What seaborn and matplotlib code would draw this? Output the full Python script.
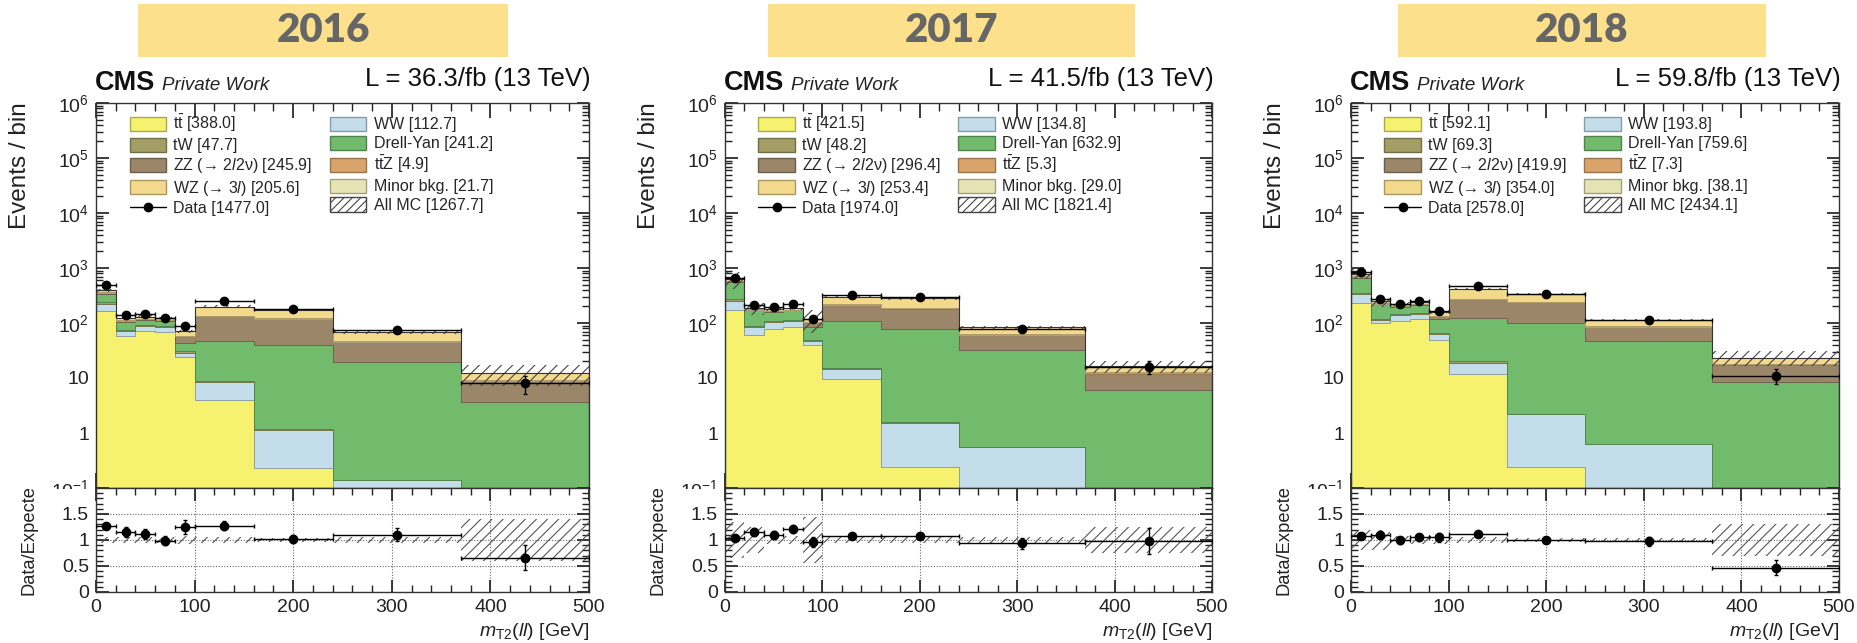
import numpy as np
import pandas as pd
import matplotlib
matplotlib.use("Agg")
import matplotlib.pyplot as plt
import seaborn as sns
from matplotlib import colors as mcolors
from matplotlib.patches import Patch, Rectangle
from matplotlib.lines import Line2D
from matplotlib.ticker import FixedLocator, FuncFormatter, MultipleLocator, LogLocator, NullFormatter
from matplotlib.transforms import Bbox, TransformedBbox

# ---------------- data ----------------
bin_edges = [0, 20, 40, 60, 80, 100, 160, 240, 370, 500]
years = ["2016", "2017", "2018"]
lumi = ["36.3", "41.5", "59.8"]

# stacking order, bottom -> top
process_names = ["ttbar", "WW", "tW", "DY", "ZZ", "ttZ", "Minor", "WZ"]

ttbar_2016 = [162, 57, 72, 69, 24, 4.0, 0.23, 0.0, 0.0]
ww_2016 = [59, 15, 17, 17, 5, 4.3, 0.92, 0.14, 0.0]
tw_2016 = [17, 4, 3, 3, 2, 0.7, 0.05, 0.0, 0.0]
dy_2016 = [99, 30, 21, 20, 12, 39, 38, 19.3, 3.7]
zz_2016 = [20, 3, 4, 3, 14, 84, 79, 25, 5]
ttz_2016 = [1, 0.3, 0.3, 0.3, 0.3, 1.5, 1.5, 0.8, 0.3]
minor_2016 = [4, 2, 2, 2, 1, 2, 1.5, 1, 0.3]
wz_2016 = [30, 10, 10, 9, 12, 64, 54, 22, 2.8]
data_2016 = [495, 140, 144, 122, 88, 255, 178, 75, 8]
unc_2016 = [0.06, 0.06, 0.06, 0.06, 0.08, 0.05, 0.04, 0.06, 0.40]

ttbar_2017 = [174, 61, 77, 86, 39, 9.4, 0.24, 0.0, 0.0]
ww_2017 = [74, 22, 26, 21, 8, 5.1, 1.28, 0.56, 0.05]
tw_2017 = [20, 4, 5, 5, 3, 0.5, 0.05, 0.0, 0.0]
dy_2017 = [282, 83, 50, 50, 33, 92, 75, 31.4, 6.0]
zz_2017 = [25, 5, 6, 6, 20, 105, 105, 28, 6]
ttz_2017 = [1, 0.3, 0.3, 0.3, 0.3, 2, 2, 1, 0.3]
minor_2017 = [5, 2, 2, 2, 1, 3, 2, 1.5, 0.4]
wz_2017 = [50, 11, 12, 14, 16, 80, 95, 21, 3.5]
data_2017 = [656, 216, 196, 224, 116, 321, 303, 78, 16]
unc_2017 = [0.35, 0.25, 0.08, 0.08, 0.45, 0.06, 0.05, 0.05, 0.25]

ttbar_2018 = [233, 98, 110, 116, 50, 11.6, 0.24, 0.0, 0.0]
ww_2018 = [105, 17, 31, 31, 12, 7.4, 1.96, 0.62, 0.05]
tw_2018 = [20, 4, 7, 5, 4, 1, 0.05, 0.0, 0.0]
dy_2018 = [306, 101, 48, 58, 50, 102, 98, 46, 8.3]
zz_2018 = [30, 5, 6, 7, 18, 150, 140, 38, 9]
ttz_2018 = [1.5, 0.4, 0.4, 0.4, 0.4, 2.5, 2.5, 1.5, 0.5]
minor_2018 = [6, 3, 3, 3, 1.5, 4, 3, 2, 0.5]
wz_2018 = [90, 20, 16, 20, 20, 140, 90, 27, 5]
data_2018 = [855, 273, 221, 252, 164, 469, 336, 112, 11]
unc_2018 = [0.20, 0.20, 0.08, 0.08, 0.08, 0.05, 0.03, 0.04, 0.30]

# legend yields, order: ttbar, tW, ZZ, WZ, Data, WW, DY, ttZ, Minor, All MC
legend_yields_2016 = [388.0, 47.7, 245.9, 205.6, 1477.0, 112.7, 241.2, 4.9, 21.7, 1267.7]
legend_yields_2017 = [421.5, 48.2, 296.4, 253.4, 1974.0, 134.8, 632.9, 5.3, 29.0, 1821.4]
legend_yields_2018 = [592.1, 69.3, 419.9, 354.0, 2578.0, 193.8, 759.6, 7.3, 38.1, 2434.1]

stacks = {
    "2016": [ttbar_2016, ww_2016, tw_2016, dy_2016, zz_2016, ttz_2016, minor_2016, wz_2016],
    "2017": [ttbar_2017, ww_2017, tw_2017, dy_2017, zz_2017, ttz_2017, minor_2017, wz_2017],
    "2018": [ttbar_2018, ww_2018, tw_2018, dy_2018, zz_2018, ttz_2018, minor_2018, wz_2018],
}
data_by_year = {"2016": data_2016, "2017": data_2017, "2018": data_2018}
unc_by_year = {"2016": unc_2016, "2017": unc_2017, "2018": unc_2018}
legend_by_year = {"2016": legend_yields_2016, "2017": legend_yields_2017, "2018": legend_yields_2018}

# ---------------- style ----------------
palette = {
    "ttbar": "#F6F16E", "WW": "#C3DEEA", "tW": "#A29E66", "DY": "#72BA6C",
    "ZZ": "#9C8669", "ttZ": "#D8A46C", "Minor": "#E6E3B5", "WZ": "#F3D98C",
}

sns.set_theme(style="ticks")
FONT = "Liberation Sans"
plt.rcParams["font.family"] = [FONT, "DejaVu Sans"]
plt.rcParams["mathtext.fontset"] = "custom"
plt.rcParams["mathtext.rm"] = FONT
plt.rcParams["mathtext.it"] = FONT + ":italic"
plt.rcParams["mathtext.bf"] = FONT + ":bold"
plt.rcParams["hatch.linewidth"] = 0.8
plt.rcParams["axes.linewidth"] = 1.0

W, H = 1858, 643
fig = plt.figure(figsize=(W / 100, H / 100), dpi=100)
fig.patch.set_facecolor("white")


def fx(px):
    return px / W


def fy(py):
    return 1 - py / H


panel_left = [96, 725, 1351]
panel_right = [589, 1212, 1839]
banner_x = [(138, 508), (768, 1135), (1398, 1766)]
MAIN_TOP, MAIN_BOT, RAT_BOT = 103, 488, 592

edges = np.array(bin_edges, dtype=float)
centers = 0.5 * (edges[1:] + edges[:-1])
halfw = 0.5 * (edges[1:] - edges[:-1])


def darker(c, f=0.7):
    r, g, b = mcolors.to_rgb(c)
    return (r * f, g * f, b * f)


def log_fmt(v, pos):
    if np.isclose(v, 1):
        return "1"
    if np.isclose(v, 10):
        return "10"
    if v < 0.5:
        return ""
    return r"$10^{%d}$" % int(round(np.log10(v)))


def ratio_fmt(v, pos):
    if v > 1.9:
        return ""
    return "%g" % v


TICK_FS = 14
for i, year in enumerate(years):
    L, R = panel_left[i], panel_right[i]
    axm = fig.add_axes([fx(L), fy(MAIN_BOT), fx(R - L), (MAIN_BOT - MAIN_TOP) / H])
    axr = fig.add_axes([fx(L), fy(RAT_BOT), fx(R - L), (RAT_BOT - MAIN_BOT) / H])

    comps = stacks[year]
    rows = []
    for name, vals in zip(process_names, comps):
        for c, v in zip(centers, vals):
            rows.append({"x": c, "w": v, "process": name})
    df = pd.DataFrame(rows)

    sns.histplot(data=df, x="x", weights="w", hue="process",
                 hue_order=process_names[::-1], bins=bin_edges,
                 multiple="stack", element="step", fill=True, alpha=1,
                 palette=palette, linewidth=0.6, legend=False, ax=axm)
    for coll in axm.collections:
        fc = coll.get_facecolor()[0]
        coll.set_edgecolor(darker(fc))

    mc_total = np.sum(np.array(comps, dtype=float), axis=0)
    data = np.array(data_by_year[year], dtype=float)
    unc = np.array(unc_by_year[year], dtype=float)

    lo = np.append(mc_total * (1 - unc), mc_total[-1] * (1 - unc[-1]))
    hi = np.append(mc_total * (1 + unc), mc_total[-1] * (1 + unc[-1]))
    axm.fill_between(edges, lo, hi, step="post", facecolor="none",
                     edgecolor="#444444", hatch="///", linewidth=0, zorder=3)
    axm.stairs(mc_total, edges, color="#333333", linewidth=0.8, zorder=3)

    axm.errorbar(centers, data, xerr=halfw, yerr=np.sqrt(data), fmt="o",
                 color="black", ms=6, lw=1.0, capsize=1.5, capthick=1.0, zorder=5)

    axm.set_yscale("log")
    axm.set_xlim(0, 500)
    axm.set_ylim(0.1, 1e6)
    axm.set_xlabel("")
    axm.set_ylabel("")
    axm.yaxis.set_major_locator(FixedLocator([1e-1, 1, 10, 1e2, 1e3, 1e4, 1e5, 1e6]))
    axm.yaxis.set_major_formatter(FuncFormatter(log_fmt))
    axm.yaxis.set_minor_locator(LogLocator(base=10, subs=np.arange(2, 10), numticks=100))
    axm.yaxis.set_minor_formatter(NullFormatter())
    axm.xaxis.set_major_locator(MultipleLocator(100))
    axm.xaxis.set_minor_locator(MultipleLocator(20))
    axm.tick_params(axis="both", which="both", direction="in", top=True, right=True,
                    labelbottom=False, labelsize=TICK_FS, pad=5, colors="#222222")
    axm.tick_params(axis="y", which="major", length=9)
    axm.tick_params(axis="y", which="minor", length=5)
    axm.tick_params(axis="x", which="major", length=11)
    axm.tick_params(axis="x", which="minor", length=6)
    for sp in axm.spines.values():
        sp.set_visible(True)
        sp.set_color("#333333")

    # legend
    ly = legend_by_year[year]
    handles = [
        Patch(facecolor=palette["ttbar"], edgecolor=darker(palette["ttbar"])),
        Patch(facecolor=palette["tW"], edgecolor=darker(palette["tW"])),
        Patch(facecolor=palette["ZZ"], edgecolor=darker(palette["ZZ"])),
        Patch(facecolor=palette["WZ"], edgecolor=darker(palette["WZ"])),
        Line2D([0], [0], color="black", marker="o", ms=6, lw=1.0),
        Patch(facecolor=palette["WW"], edgecolor=darker(palette["WW"])),
        Patch(facecolor=palette["DY"], edgecolor=darker(palette["DY"])),
        Patch(facecolor=palette["ttZ"], edgecolor=darker(palette["ttZ"])),
        Patch(facecolor=palette["Minor"], edgecolor=darker(palette["Minor"])),
        Patch(facecolor="white", edgecolor="#444444", hatch="////"),
    ]
    labels = [
        r"$\mathrm{t}\bar{\mathrm{t}}$ [%.1f]" % ly[0],
        "tW [%.1f]" % ly[1],
        "ZZ (\u2192 2$l$2\u03bd) [%.1f]" % ly[2],
        "WZ (\u2192 3$l$) [%.1f]" % ly[3],
        "Data [%.1f]" % ly[4],
        "WW [%.1f]" % ly[5],
        "Drell-Yan [%.1f]" % ly[6],
        r"$\mathrm{t}\bar{\mathrm{t}}$Z [%.1f]" % ly[7],
        "Minor bkg. [%.1f]" % ly[8],
        "All MC [%.1f]" % ly[9],
    ]
    axm.legend(handles, labels, ncol=2, loc="upper left", bbox_to_anchor=(0.055, 0.99),
               frameon=False, fontsize=11.5, handlelength=2.3, handleheight=1.0,
               labelspacing=0.2, columnspacing=1.1, handletextpad=0.45, borderaxespad=0)

    # ratio panel
    ratio = data / mc_total
    rerr = np.sqrt(data) / mc_total
    rlo = np.append(1 - unc, 1 - unc[-1])
    rhi = np.append(1 + unc, 1 + unc[-1])
    axr.fill_between(edges, rlo, rhi, step="post", facecolor="none",
                     edgecolor="#555555", hatch="///", linewidth=0, zorder=2)
    axr.errorbar(centers, ratio, xerr=halfw, yerr=rerr, fmt="o", color="black",
                 ms=6, lw=1.0, capsize=1.5, capthick=1.0, zorder=5)
    axr.set_xlim(0, 500)
    axr.set_ylim(0, 2)
    axr.xaxis.set_major_locator(MultipleLocator(100))
    axr.xaxis.set_minor_locator(MultipleLocator(20))
    axr.yaxis.set_major_locator(FixedLocator([0, 0.5, 1, 1.5, 2]))
    axr.yaxis.set_major_formatter(FuncFormatter(ratio_fmt))
    axr.yaxis.set_minor_locator(MultipleLocator(0.1))
    axr.grid(True, which="major", linestyle=(0, (1, 1.5)), color="#666666", linewidth=0.8)
    axr.tick_params(axis="both", which="both", direction="in", top=True, right=True,
                    labelsize=TICK_FS, pad=5, colors="#222222")
    axr.tick_params(axis="y", which="major", length=9)
    axr.tick_params(axis="y", which="minor", length=5)
    axr.tick_params(axis="x", which="major", length=9)
    axr.tick_params(axis="x", which="minor", length=5)
    for sp in axr.spines.values():
        sp.set_visible(True)
        sp.set_color("#333333")

    # clipped 10^-1 label and axis titles
    clip_main = TransformedBbox(Bbox.from_extents(0, fy(MAIN_BOT + 1), 1, 1), fig.transFigure)
    clip_rat = TransformedBbox(Bbox.from_extents(0, 0, 1, fy(MAIN_BOT + 1)), fig.transFigure)
    t01 = fig.text(fx(L - 6), fy(MAIN_BOT + 2), r"$10^{-1}$", ha="right", va="center",
                   fontsize=TICK_FS, color="#222222")
    t01.set_clip_box(clip_main)
    t01.set_clip_on(True)

    fig.text(fx(L - 76), fy(MAIN_TOP - 1), "Events / bin", rotation=90, ha="center",
             va="top", fontsize=17.5, color="#222222")
    tr = fig.text(fx(L - 67), fy(RAT_BOT + 3), "Data/Expected", rotation=90, ha="center",
                  va="bottom", fontsize=13.2, color="#222222")
    tr.set_clip_box(clip_rat)
    tr.set_clip_on(True)
    fig.text(fx(R), fy(636), r"$m_{\mathrm{T2}}(ll)$ [GeV]", ha="right", va="baseline",
             fontsize=14, color="#222222")

    # header texts
    fig.text(fx(L - 1), fy(90), "CMS", ha="left", va="baseline", fontsize=19.5,
             fontweight="bold", color="#111111")
    fig.text(fx(L + 66), fy(90), "Private Work", ha="left", va="baseline",
             fontsize=13.5, fontstyle="italic", color="#222222")
    fig.text(fx(R + 2), fy(86), "L = %s/fb (13 TeV)" % lumi[i], ha="right", va="baseline",
             fontsize=18.5, color="#111111")

    # year banner
    bx0, bx1 = banner_x[i]
    fig.add_artist(Rectangle((fx(bx0), fy(57)), fx(bx1 - bx0), 53 / H,
                             transform=fig.transFigure, facecolor="#FCE08C",
                             edgecolor="none", zorder=0))
    fig.text(fx(0.5 * (bx0 + bx1)), fy(31), year, ha="center", va="center",
             fontsize=29, fontweight="heavy", color="#666666", family=["Lato", "DejaVu Sans"])

fig.savefig("out.png", dpi=100, facecolor="white")
